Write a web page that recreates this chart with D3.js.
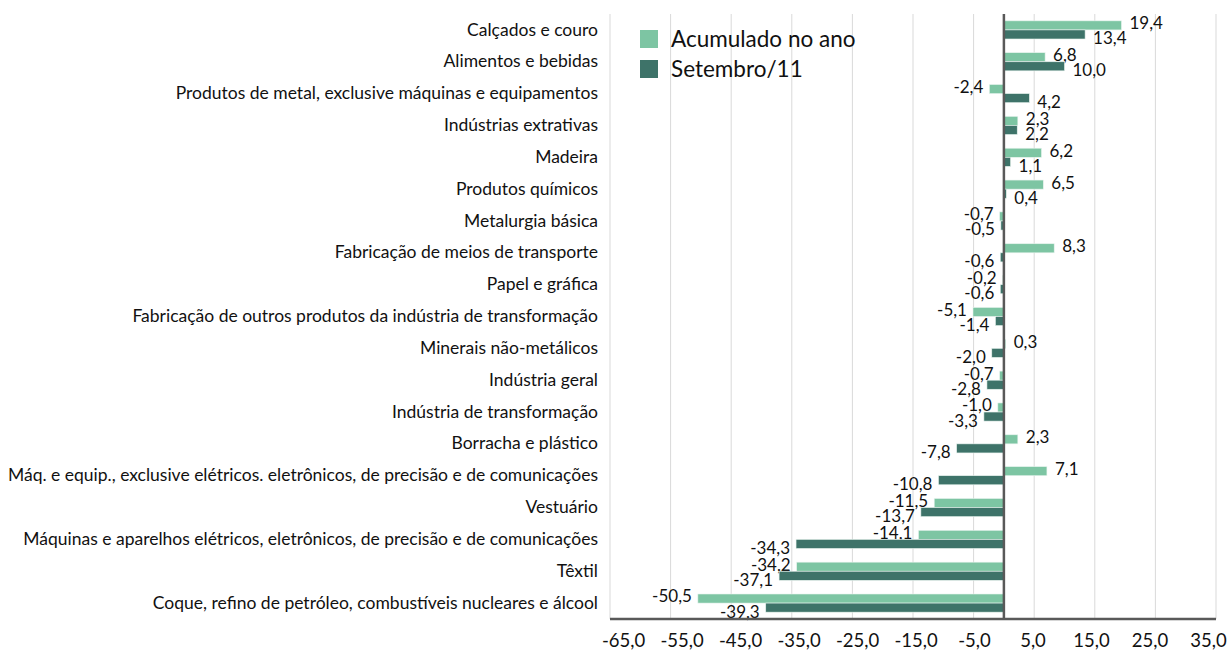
<!DOCTYPE html>
<html>
<head>
<meta charset="utf-8">
<script src="https://cdn.jsdelivr.net/npm/d3@7"></script>
<style>
  body { margin: 0; background: #fff; }
  text { font-family: Lato, "Open Sans", sans-serif; }
</style>
</head>
<body>
<div id="chart"></div>
<script>
// Categories, top to bottom
const categories = [
    "Calçados e couro",
    "Alimentos e bebidas",
    "Produtos de metal, exclusive máquinas e equipamentos",
    "Indústrias extrativas",
    "Madeira",
    "Produtos químicos",
    "Metalurgia básica",
    "Fabricação de meios de transporte",
    "Papel e gráfica",
    "Fabricação de outros produtos da indústria de transformação",
    "Minerais não-metálicos",
    "Indústria geral",
    "Indústria de transformação",
    "Borracha e plástico",
    "Máq. e equip., exclusive elétricos. eletrônicos, de precisão e de comunicações",
    "Vestuário",
    "Máquinas e aparelhos elétricos, eletrônicos, de precisão e de comunicações",
    "Têxtil",
    "Coque, refino de petróleo, combustíveis nucleares e álcool"
];

// Series values
const acumulado = [19.4, 6.8, -2.4, 2.3, 6.2, 6.5, -0.7, 8.3, -0.2, -5.1, 0.3, -0.7, -1.0, 2.3, 7.1, -11.5, -14.1, -34.2, -50.5];
const setembro = [13.4, 10.0, 4.2, 2.2, 1.1, 0.4, -0.5, -0.6, -0.6, -1.4, -2.0, -2.8, -3.3, -7.8, -10.8, -13.7, -34.3, -37.1, -39.3];

const seriesNames = ["Acumulado no ano", "Setembro/11"];
const xTicks = [-65, -55, -45, -35, -25, -15, -5, 5, 15, 25, 35];

const colors = ["#7dc5a3", "#3e7369"];

const width = 1228, height = 650;
const plot = { left: 610, right: 1216, top: 14, bottom: 619 };

const fmt = v => d3.format(".1f")(v).replace(".", ",").replace("−", "-");

const svg = d3.select("#chart")
    .append("svg")
    .attr("width", width)
    .attr("height", height);

// Scales
const x = d3.scaleLinear().domain([-65, 35]).range([plot.left, plot.right]);
// tick labels sit on a slightly narrower span than the gridlines in the original
const xLabels = d3.scaleLinear().domain([-65, 35]).range([623, 1208]);
const y = d3.scaleBand().domain(categories).range([plot.top, plot.bottom])
    .paddingInner(0.43).paddingOuter(0.215);
const ySub = d3.scaleBand().domain([0, 1]).range([0, y.bandwidth()]);

// Vertical gridlines
svg.append("g")
    .selectAll("line")
    .data(xTicks)
    .enter()
    .append("line")
    .attr("x1", d => x(d))
    .attr("x2", d => x(d))
    .attr("y1", plot.top)
    .attr("y2", plot.bottom)
    .attr("stroke", "#d9d9d9")
    .attr("stroke-width", 1);

// Bars (one group per series)
const series = [acumulado, setembro];
series.forEach((vals, s) => {
    const g = svg.append("g");
    g.selectAll("rect")
        .data(vals)
        .enter()
        .append("rect")
        .attr("x", d => x(Math.min(0, d)))
        .attr("y", (d, i) => y(categories[i]) + ySub(s))
        .attr("width", d => Math.abs(x(d) - x(0)))
        .attr("height", ySub.bandwidth())
        .attr("fill", colors[s])
        .attr("stroke", "#e8f3ee")
        .attr("stroke-width", 0.6);

    // Data labels (light series nudged up, dark series nudged down)
    g.selectAll("text")
        .data(vals)
        .enter()
        .append("text")
        .attr("x", d => d >= 0 ? x(d) + 8 : x(d) - 6)
        .attr("y", (d, i) => y(categories[i]) + ySub(s) + ySub.bandwidth() / 2 + (s === 0 ? -2 : 4))
        .attr("dy", "0.35em")
        .attr("text-anchor", d => d >= 0 ? "start" : "end")
        .style("font-size", "17px")
        .style("fill", "#111")
        .text(d => fmt(d));
});

// Zero line
svg.append("line")
    .attr("x1", x(0)).attr("x2", x(0))
    .attr("y1", plot.top).attr("y2", plot.bottom)
    .attr("stroke", "#595959")
    .attr("stroke-width", 2.5);

// Bottom axis line
svg.append("line")
    .attr("x1", plot.left).attr("x2", plot.right)
    .attr("y1", plot.bottom).attr("y2", plot.bottom)
    .attr("stroke", "#595959")
    .attr("stroke-width", 2.5);

// Bottom axis labels
const xAxis = svg.append("g")
    .attr("transform", `translate(0,${plot.bottom})`)
    .call(d3.axisBottom(xLabels).tickValues(xTicks).tickSize(0).tickPadding(15).tickFormat(fmt));
xAxis.select(".domain").remove();
xAxis.selectAll("text").style("font-size", "18.5px").style("fill", "#111")
    .style("font-family", "Lato, sans-serif");

// Category labels
const yAxis = svg.append("g")
    .attr("transform", `translate(${plot.left - 12},0)`)
    .call(d3.axisLeft(y).tickSize(0).tickPadding(0));
yAxis.select(".domain").remove();
yAxis.selectAll("text").style("font-size", "17.5px").style("fill", "#111")
    .style("font-family", "Lato, sans-serif");

// Legend
const legend = svg.append("g").attr("transform", "translate(640, 30)");
seriesNames.forEach((name, i) => {
    const row = legend.append("g").attr("transform", `translate(0, ${i * 30})`);
    row.append("rect")
        .attr("width", 18)
        .attr("height", 18)
        .attr("fill", colors[i]);
    row.append("text")
        .attr("x", 31)
        .attr("y", 9)
        .attr("dy", "0.35em")
        .style("font-size", "22.5px")
        .style("fill", "#111")
        .text(name);
});
</script>
</body>
</html>
